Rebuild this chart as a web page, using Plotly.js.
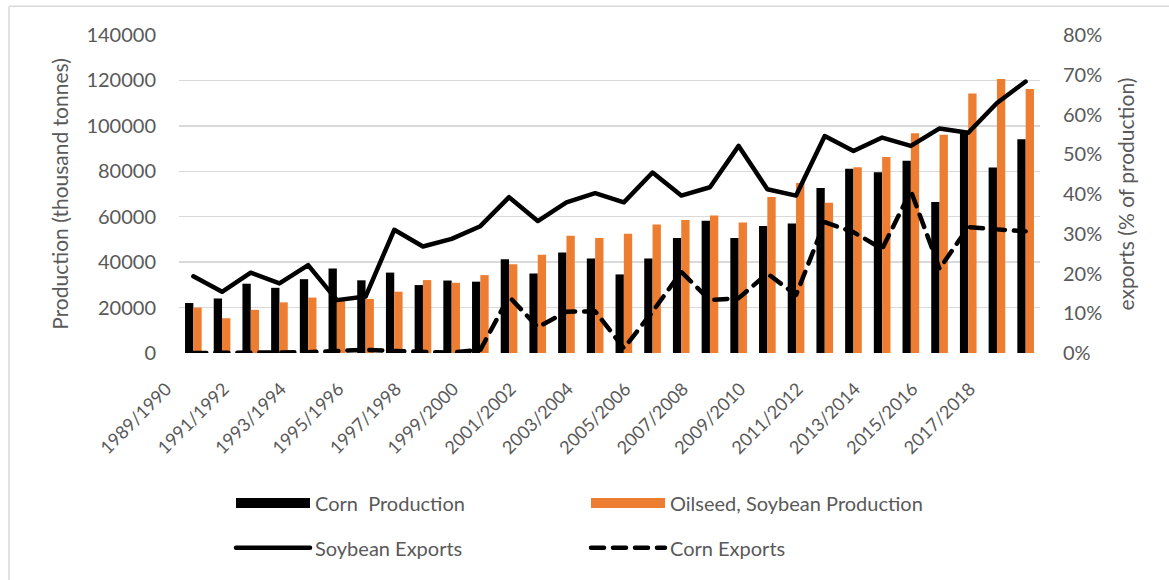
<!DOCTYPE html>
<html>
<head>
<meta charset="utf-8">
<script src="https://cdn.plot.ly/plotly-3.0.1.min.js"></script>
<style>
  html, body { margin: 0; padding: 0; background: #ffffff; }
  #chart { width: 1169px; height: 580px; }
  .scatterlayer path.js-line { stroke-linecap: round; stroke-linejoin: round; }
  .legend2 path.js-line { stroke-linecap: round; }
</style>
</head>
<body>
<div id="chart"></div>
<script>
const categories = [
  '1989/1990','1990/1991','1991/1992','1992/1993','1993/1994','1994/1995',
  '1995/1996','1996/1997','1997/1998','1998/1999','1999/2000','2000/2001',
  '2001/2002','2002/2003','2003/2004','2004/2005','2005/2006','2006/2007',
  '2007/2008','2008/2009','2009/2010','2010/2011','2011/2012','2012/2013',
  '2013/2014','2014/2015','2015/2016','2016/2017','2017/2018','2018/2019'
];
const cornProduction = [22000, 24000, 30500, 28700, 32500, 37200, 32000, 35400, 29900, 31900,
  31400, 41300, 35000, 44200, 41600, 34600, 41600, 50600, 58200, 50600,
  55900, 57000, 72600, 81100, 79600, 84600, 66500, 97000, 81700, 94100];
const soybeanProduction = [20000, 15300, 19000, 22300, 24400, 24000, 23800, 27000, 32100, 30900,
  34300, 39100, 43300, 51600, 50600, 52500, 56600, 58600, 60500, 57400,
  68700, 74800, 66200, 81800, 86300, 96800, 96100, 114200, 120600, 116200];
const soybeanExports = [19.3, 15.4, 20.2, 17.5, 22.1, 13.3, 14.2, 31.0, 26.8, 28.7,
  31.9, 39.2, 33.2, 37.9, 40.2, 37.9, 45.4, 39.6, 41.7, 52.1,
  41.2, 39.6, 54.6, 50.8, 54.2, 52.1, 56.5, 55.4, 62.9, 68.3];
const cornExports = [0, 0, 0, 0, 0.2, 0.5, 0.8, 0.5, 0.2, 0.1,
  0.8, 14.2, 6.5, 10.4, 10.5, 1.2, 10.4, 20.4, 13.3, 13.8,
  20.0, 14.6, 32.9, 30.4, 26.2, 40.8, 21.2, 31.7, 31.1, 30.6];
const labelCategories = categories.filter((c, i) => i % 2 === 0);

const ORANGE = '#ED7D31';
const GREY_TEXT = '#595959';
const GRID = '#d9d9d9';
const DASH = '13px,9px';

const traces = [
  { type: 'bar', name: 'Corn  Production', x: categories, y: cornProduction,
    marker: { color: '#000000' }, showlegend: false, yaxis: 'y' },
  { type: 'bar', name: 'Oilseed, Soybean Production', x: categories, y: soybeanProduction,
    marker: { color: ORANGE }, showlegend: false, yaxis: 'y' },
  { type: 'scatter', mode: 'lines', name: 'Soybean Exports', x: categories, y: soybeanExports,
    line: { color: '#000000', width: 4.5 }, yaxis: 'y2', legend: 'legend2' },
  { type: 'scatter', mode: 'lines', name: 'Corn Exports', x: categories, y: cornExports,
    line: { color: '#000000', width: 4.5, dash: DASH }, yaxis: 'y2', legend: 'legend2' },
  // legend keys for the bar series
  { type: 'scatter', mode: 'lines', name: 'Corn  Production', x: [null], y: [null],
    line: { color: '#000000', width: 12 }, yaxis: 'y', legend: 'legend', hoverinfo: 'skip' },
  { type: 'scatter', mode: 'lines', name: 'Oilseed, Soybean Production', x: [null], y: [null],
    line: { color: ORANGE, width: 12 }, yaxis: 'y', legend: 'legend', hoverinfo: 'skip' }
];

const L = 179, R = 129, T = 35, B = 225;
const plotW = 1169 - L - R, plotH = 580 - T - B;
const px = v => (v - L) / plotW;
const py = v => (580 - B - v) / plotH;

const legendCommon = {
  orientation: 'h', xanchor: 'left', yanchor: 'middle',
  font: { family: 'Lato, sans-serif', size: 20, color: GREY_TEXT },
  itemwidth: 74, entrywidth: 266, entrywidthmode: 'pixels',
  bgcolor: 'rgba(0,0,0,0)', traceorder: 'normal', itemclick: false
};

const layout = {
  width: 1169, height: 580,
  margin: { l: L, r: R, t: T, b: B, pad: 0 },
  paper_bgcolor: '#ffffff', plot_bgcolor: '#ffffff',
  font: { family: 'Lato, sans-serif', size: 20, color: GREY_TEXT },
  barmode: 'group', bargap: 0.42, bargroupgap: 0,
  xaxis: {
    type: 'category', tickmode: 'array', tickvals: labelCategories, ticktext: labelCategories,
    tickangle: -45, tickfont: { size: 18, color: GREY_TEXT }, showgrid: false,
    showline: false, ticks: '', zeroline: false, range: [-0.5, 29.5], fixedrange: true,
    ticklabelstandoff: 21, ticklabelshift: -27
  },
  yaxis: {
    range: [0, 140000], dtick: 20000, tick0: 0, gridcolor: GRID, gridwidth: 1.3,
    zeroline: false, showline: false, ticks: '', tickformat: 'd',
    tickfont: { size: 20, color: GREY_TEXT }, ticklabelstandoff: 22,
    title: { text: 'Production (thousand tonnes)', font: { size: 21, color: GREY_TEXT }, standoff: 12 }
  },
  yaxis2: {
    overlaying: 'y', side: 'right', range: [0, 80], dtick: 10, tick0: 0, ticksuffix: '%',
    showgrid: false, zeroline: false, showline: false, ticks: '',
    tickfont: { size: 20, color: GREY_TEXT }, ticklabelstandoff: 22,
    title: { text: 'exports (% of production)', font: { size: 21, color: GREY_TEXT }, standoff: 18 }
  },
  legend: Object.assign({}, legendCommon, { x: px(231), y: py(506) }),
  legend2: Object.assign({}, legendCommon, { x: px(231), y: py(551) }),
  shapes: [
    { type: 'line', xref: 'paper', yref: 'paper', x0: px(9), x1: px(1180), y0: py(6), y1: py(6),
      line: { color: GRID, width: 1.5 } },
    { type: 'line', xref: 'paper', yref: 'paper', x0: px(9), x1: px(9), y0: py(6), y1: py(590),
      line: { color: GRID, width: 1.5 } }
  ],
  showlegend: true
};

Plotly.newPlot('chart', traces, layout, { displayModeBar: false, staticPlot: true });
</script>
</body>
</html>
